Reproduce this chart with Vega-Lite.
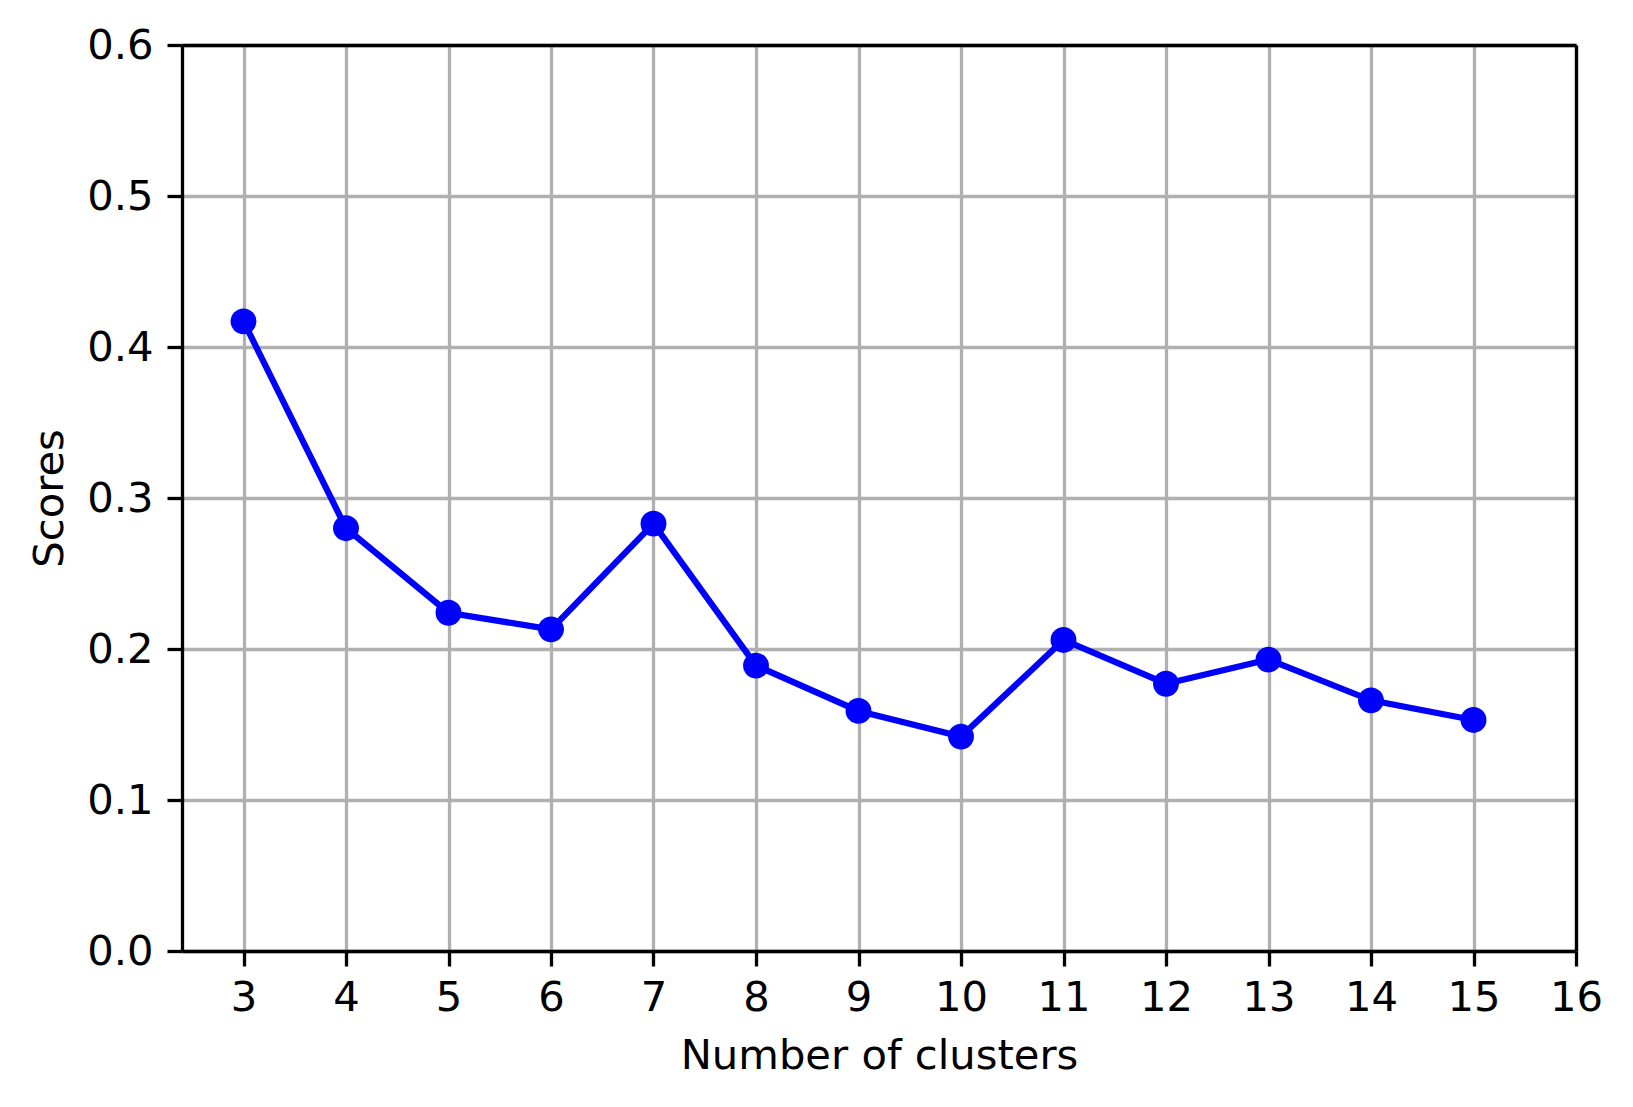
{
  "$schema": "https://vega.github.io/schema/vega-lite/v6.json",
  "width": 1394,
  "height": 906,
  "autosize": {"type": "none"},
  "padding": {"left": 182, "top": 45, "right": 57, "bottom": 156},
  "background": "white",
  "config": {
    "font": "DejaVu Sans",
    "view": {"stroke": null},
    "axis": {
      "domainColor": "black",
      "domainWidth": 3.3,
      "tickColor": "black",
      "tickWidth": 3.3,
      "tickSize": 15,
      "gridColor": "#b0b0b0",
      "gridWidth": 3.3,
      "gridOpacity": 1,
      "labelFont": "DejaVu Sans",
      "labelFontSize": 41.7,
      "labelColor": "black",
      "titleFont": "DejaVu Sans",
      "titleFontSize": 41.7,
      "titleFontWeight": "normal",
      "titleColor": "black",
      "labelFlush": false,
      "labelOverlap": false
    }
  },
  "data": {
    "values": [
      {"k": 3, "score": 0.417},
      {"k": 4, "score": 0.280},
      {"k": 5, "score": 0.224},
      {"k": 6, "score": 0.213},
      {"k": 7, "score": 0.283},
      {"k": 8, "score": 0.189},
      {"k": 9, "score": 0.159},
      {"k": 10, "score": 0.142},
      {"k": 11, "score": 0.206},
      {"k": 12, "score": 0.177},
      {"k": 13, "score": 0.193},
      {"k": 14, "score": 0.166},
      {"k": 15, "score": 0.153}
    ]
  },
  "resolve": {"axis": {"x": "independent", "y": "independent"}},
  "layer": [
    {
      "mark": {"type": "line", "color": "#0000ff", "strokeWidth": 6.25},
      "encoding": {
        "x": {
          "field": "k",
          "type": "quantitative",
          "scale": {"domain": [2.4, 16], "nice": false, "zero": false},
          "axis": {
            "title": "Number of clusters",
            "values": [3, 4, 5, 6, 7, 8, 9, 10, 11, 12, 13, 14, 15, 16],
            "format": "d",
            "labelPadding": 11,
            "titlePadding": 17
          }
        },
        "y": {
          "field": "score",
          "type": "quantitative",
          "scale": {"domain": [0, 0.6], "nice": false},
          "axis": {
            "title": "Scores",
            "values": [0, 0.1, 0.2, 0.3, 0.4, 0.5, 0.6],
            "format": ".1f",
            "labelPadding": 14,
            "titlePadding": 15
          }
        }
      }
    },
    {
      "mark": {"type": "point", "filled": true, "shape": "circle", "color": "#0000ff", "opacity": 1, "size": 670},
      "encoding": {
        "x": {
          "field": "k",
          "type": "quantitative",
          "scale": {"domain": [2.4, 16], "nice": false, "zero": false},
          "axis": {"orient": "top", "title": null, "labels": false, "ticks": false, "grid": false, "domain": true, "zindex": 2}
        },
        "y": {
          "field": "score",
          "type": "quantitative",
          "scale": {"domain": [0, 0.6], "nice": false},
          "axis": {"orient": "right", "title": null, "labels": false, "ticks": false, "grid": false, "domain": true, "zindex": 2}
        }
      }
    }
  ]
}
